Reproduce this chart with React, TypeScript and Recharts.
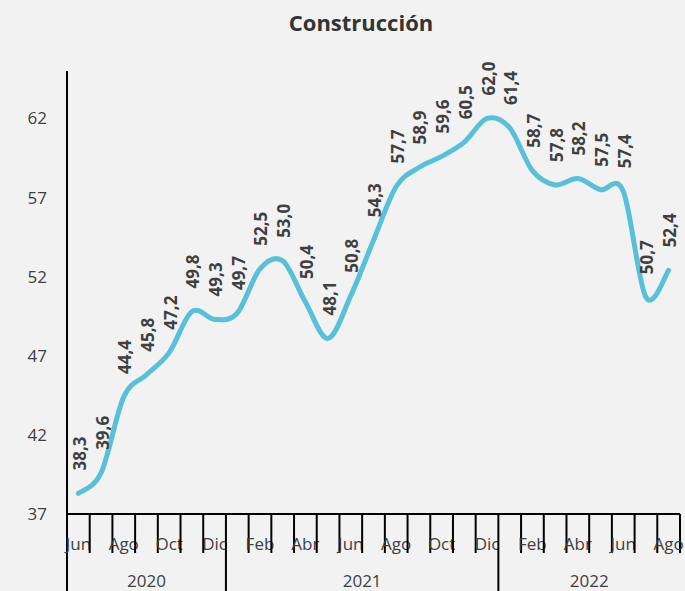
import { ComposedChart, Line, XAxis, YAxis, LabelList } from "recharts";

// Índice de construcción, jun-2020 a ago-2022
const MONTHS = [
  "Jun", "Jul", "Ago", "Sep", "Oct", "Nov", "Dic",
  "Ene", "Feb", "Mar", "Abr", "May", "Jun", "Jul", "Ago", "Sep", "Oct", "Nov", "Dic",
  "Ene", "Feb", "Mar", "Abr", "May", "Jun", "Jul", "Ago",
];
const VALUES = [
  38.3, 39.6, 44.4, 45.8, 47.2, 49.8, 49.3,
  49.7, 52.5, 53.0, 50.4, 48.1, 50.8, 54.3, 57.7, 58.9, 59.6, 60.5, 62.0,
  61.4, 58.7, 57.8, 58.2, 57.5, 57.4, 50.7, 52.4,
];
const YEARS = ["2020", "2021", "2022"];
const YEAR_LENGTHS = [7, 12, 8];
const Y_TICKS = [37, 42, 47, 52, 57, 62];

const W = 685;
const H = 591;
const PLOT_LEFT = 67;
const PLOT_RIGHT = 680;
const PLOT_TOP = 71;
const AXIS_Y = 514;
const BAND = (PLOT_RIGHT - PLOT_LEFT) / MONTHS.length;

const TEXT = "#404040";
const FONT = "'Open Sans', sans-serif";

const data = MONTHS.map((m, i) => ({ key: `${m}-${i}`, value: VALUES[i] }));

const yearStarts = YEAR_LENGTHS.map((_, g) =>
  YEAR_LENGTHS.slice(0, g).reduce((a, b) => a + b, 0)
);

// smooth line that passes through every point (like excel "smoothed line")
function smoothCurve(context: any) {
  let pts: number[][] = [];
  return {
    areaStart() {},
    areaEnd() {},
    lineStart() {
      pts = [];
    },
    point(x: number, y: number) {
      pts.push([+x, +y]);
    },
    lineEnd() {
      const n = pts.length;
      if (!n) return;
      context.moveTo(pts[0][0], pts[0][1]);
      for (let i = 0; i < n - 1; i++) {
        const p0 = pts[Math.max(i - 1, 0)];
        const p1 = pts[i];
        const p2 = pts[i + 1];
        const p3 = pts[Math.min(i + 2, n - 1)];
        context.bezierCurveTo(
          p1[0] + (p2[0] - p0[0]) / 6,
          p1[1] + (p2[1] - p0[1]) / 6,
          p2[0] - (p3[0] - p1[0]) / 6,
          p2[1] - (p3[1] - p1[1]) / 6,
          p2[0],
          p2[1]
        );
      }
    },
  };
}

function MonthTick(props: any) {
  const { x, payload } = props;
  const i = payload?.index ?? props.index;
  const left = x - BAND / 2;
  const g = yearStarts.indexOf(i);
  const isYearStart = g >= 0;
  const last = i === MONTHS.length - 1;
  return (
    <g>
      <line
        x1={left}
        x2={left}
        y1={AXIS_Y}
        y2={isYearStart ? H : AXIS_Y + 39}
        stroke="#000"
        strokeWidth={2}
      />
      {last && (
        <line x1={x + BAND / 2} x2={x + BAND / 2} y1={AXIS_Y} y2={AXIS_Y + 39} stroke="#000" strokeWidth={2} />
      )}
      {i % 2 === 0 && (
        <text x={x} y={AXIS_Y + 29} textAnchor="middle" dominantBaseline="central" fontSize={17} fill={TEXT} fontFamily={FONT}>
          {MONTHS[i]}
        </text>
      )}
      {isYearStart && (
        <text
          x={left + (YEAR_LENGTHS[g] * BAND) / 2}
          y={AXIS_Y + 66}
          textAnchor="middle"
          dominantBaseline="central"
          fontSize={17}
          fill={TEXT}
          fontFamily={FONT}
        >
          {YEARS[g]}
        </text>
      )}
    </g>
  );
}

function ValueLabel(props: any) {
  const { x, y, value } = props;
  if (x == null || y == null) return null;
  const lx = x + 1;
  const ly = y - 23;
  return (
    <text
      x={lx}
      y={ly}
      transform={`rotate(-90 ${lx} ${ly})`}
      textAnchor="start"
      dominantBaseline="central"
      fontSize={17}
      fontWeight="bold"
      fill={TEXT}
      fontFamily={FONT}
    >
      {Number(value).toFixed(1).replace(".", ",")}
    </text>
  );
}

export default function App() {
  return (
    <div
      style={{
        position: "absolute",
        left: 0,
        top: 0,
        width: W,
        height: H,
        background: "#f2f2f2",
        overflow: "hidden",
      }}
    >
      <div
        style={{
          position: "absolute",
          left: 211,
          width: 300,
          top: 7,
          textAlign: "center",
          fontFamily: FONT,
          fontWeight: "bold",
          fontSize: 22,
          color: "#333",
          lineHeight: "30px",
        }}
      >
        Construcción
      </div>
      <ComposedChart
        width={W}
        height={H}
        data={data}
        margin={{ top: PLOT_TOP, right: W - PLOT_RIGHT, bottom: 0, left: 0 }}
      >
        <XAxis
          dataKey="key"
          scale="band"
          interval={0}
          height={H - AXIS_Y}
          tickLine={false}
          tickSize={0}
          axisLine={{ stroke: "#000", strokeWidth: 2 }}
          tick={<MonthTick />}
        />
        <YAxis
          domain={[37, 65]}
          ticks={Y_TICKS}
          width={PLOT_LEFT}
          tickLine={false}
          tickSize={0}
          tickMargin={20}
          axisLine={{ stroke: "#000", strokeWidth: 2 }}
          tick={{ fontSize: 17, fill: TEXT, fontFamily: FONT }}
          allowDataOverflow
        />
        <Line
          dataKey="value"
          type={smoothCurve as any}
          stroke="#58c1d9"
          strokeWidth={5}
          strokeLinecap="round"
          dot={false}
          activeDot={false}
          isAnimationActive={false}
        >
          <LabelList dataKey="value" content={<ValueLabel />} />
        </Line>
      </ComposedChart>
    </div>
  );
}
